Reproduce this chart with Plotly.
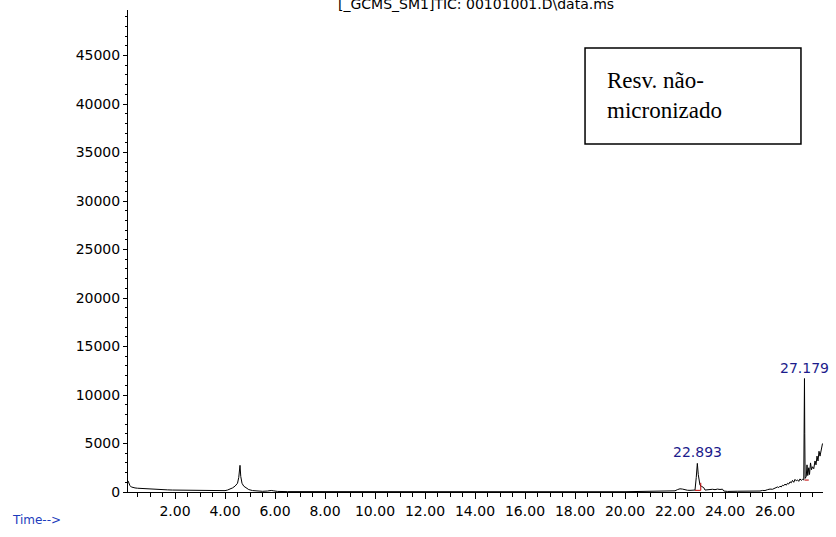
import plotly.graph_objects as go

# Total ion chromatogram (retention time in min, abundance)
rt = [0.12, 0.15, 0.20, 0.25, 0.30, 0.40, 0.50, 0.70, 0.90, 1.10, 1.30, 1.50, 1.70, 1.90,
      2.10, 2.30, 2.50, 2.70, 2.90, 3.10, 3.30, 3.50, 3.70, 3.90, 4.00, 4.10, 4.20, 4.30,
      4.40, 4.50, 4.55, 4.60, 4.63, 4.68, 4.75, 4.85, 4.95, 5.10, 5.30, 5.50, 5.70, 5.85,
      5.95, 6.10, 6.50, 8.00, 10.00, 12.00, 14.00, 16.00, 18.00, 20.00, 21.00, 21.40,
      21.60, 22.00, 22.10, 22.20, 22.30, 22.40, 22.50, 22.60, 22.70, 22.80, 22.85, 22.893,
      22.93, 22.97, 23.00, 23.05, 23.15, 23.20, 23.30, 23.40, 23.50, 23.60, 23.70, 23.80,
      23.90, 23.95, 24.10, 24.50, 24.90, 25.00, 25.20, 25.40, 25.50, 25.60, 25.70, 25.80,
      25.90, 26.00, 26.10, 26.15, 26.20, 26.25, 26.30, 26.35, 26.40, 26.45, 26.50, 26.55,
      26.60, 26.65, 26.70, 26.75, 26.80, 26.85, 26.90, 26.95, 27.00, 27.05, 27.10, 27.15,
      27.165, 27.179, 27.19, 27.205, 27.25, 27.28, 27.31, 27.35, 27.38, 27.42, 27.46, 27.50,
      27.55, 27.60, 27.64, 27.68, 27.72, 27.76, 27.80, 27.85, 27.90]
abundance = [1150, 900, 650, 520, 460, 420, 390, 350, 320, 290, 260, 240, 220, 200,
             190, 180, 170, 160, 150, 130, 120, 110, 100, 110, 140, 200, 300, 420,
             600, 900, 1500, 2750, 1600, 900, 600, 400, 250, 150, 90, 70, 100, 160,
             120, 60, 40, 30, 30, 30, 30, 30, 30, 30, 40, 50,
             80, 120, 250, 330, 300, 200, 180, 170, 170, 200, 1500, 2950,
             1800, 900, 700, 600, 450, 200, 250, 230, 280, 240, 300, 260,
             290, 100, 60, 80, 60, 90, 120, 100, 160, 150, 240, 300,
             280, 420, 520, 460, 600, 520, 700, 650, 820, 700, 900, 820,
             1050, 950, 1200, 1000, 1300, 1150, 1250, 1100, 1350, 1200, 1300, 1250,
             5000, 11700, 6000, 1400, 1600, 2800, 1700, 2500, 1800, 3000, 2300, 2600,
             2400, 3200, 2800, 3700, 3200, 4200, 3700, 4500, 5000]

# Integrated peaks: label, apex, baseline start/end, drop-line top
peak_labels = ["22.893", "27.179"]
peak_apex = [2950, 11700]
base_rt = [[22.80, 23.03], [27.18, 27.35]]
base_ab = [[170, 170], [1230, 1230]]
drop_top = [950, 1230]

x_ticks = [2, 4, 6, 8, 10, 12, 14, 16, 18, 20, 22, 24, 26]
x_tick_text = ["%.2f" % v for v in x_ticks]
y_ticks = [0, 5000, 10000, 15000, 20000, 25000, 30000, 35000, 40000, 45000]
y_tick_text = [str(v) for v in y_ticks]

fig = go.Figure()
fig.add_trace(go.Scatter(x=rt, y=abundance, mode="lines",
                         line=dict(color="black", width=1), showlegend=False,
                         hoverinfo="skip"))

label_blue = "#1c1c8c"
for lab, ap, bx, by, top in zip(peak_labels, peak_apex, base_rt, base_ab, drop_top):
    # integration baseline plus drop line at the end of the window
    fig.add_trace(go.Scatter(x=bx + [bx[1]], y=by + [top],
                             mode="lines", line=dict(color="#c00000", width=1),
                             showlegend=False, hoverinfo="skip"))
    fig.add_annotation(x=float(lab), y=ap, text=lab, showarrow=False,
                       xanchor="center", yanchor="bottom", yshift=1,
                       font=dict(family="DejaVu Sans", size=14, color=label_blue))

fig.add_annotation(xref="paper", yref="paper", x=0.5, y=1, yanchor="bottom",
                   yshift=-4, showarrow=False,
                   text="[_GCMS_SM1]TIC: 00101001.D\\data.ms",
                   font=dict(family="DejaVu Sans", size=14, color="black"))

fig.add_annotation(xref="paper", yref="paper", x=-0.17, y=-0.04, xanchor="left",
                   yanchor="top", showarrow=False, text="Time-->",
                   font=dict(family="DejaVu Sans", size=12, color="#1c3cbc"))

# sample label box
fig.add_shape(type="rect", xref="paper", yref="paper",
              x0=0.6576, x1=0.9683, y0=0.722, y1=0.9212,
              line=dict(color="black", width=1.5), fillcolor="white")
fig.add_annotation(xref="paper", yref="paper", x=0.6863, y=0.8216,
                   xanchor="left", yanchor="middle", align="left", showarrow=False,
                   text="Resv. não-<br>micronizado",
                   font=dict(family="Liberation Serif", size=23, color="black"))

fig.update_xaxes(range=[0.12, 27.92], tickvals=x_ticks, ticktext=x_tick_text,
                 ticks="outside", ticklen=6, tickcolor="black", showgrid=False,
                 zeroline=False, showline=True, linecolor="black", linewidth=1,
                 tickfont=dict(family="DejaVu Sans", size=14, color="black"),
                 minor=dict(dtick=0.5, ticks="outside", ticklen=4, tickcolor="black"))
fig.update_yaxes(range=[0, 49700], tickvals=y_ticks, ticktext=y_tick_text,
                 ticks="outside", ticklen=4,
                 tickcolor="black", showgrid=False, zeroline=False, showline=True,
                 linecolor="black", linewidth=1,
                 tickfont=dict(family="DejaVu Sans", size=14, color="black"),
                 minor=dict(dtick=1000, ticks="outside", ticklen=2, tickcolor="black"))

fig.update_layout(width=836, height=537, plot_bgcolor="white", paper_bgcolor="white",
                  margin=dict(l=128, r=13, t=10, b=45), showlegend=False)

fig.write_html("out.html")
